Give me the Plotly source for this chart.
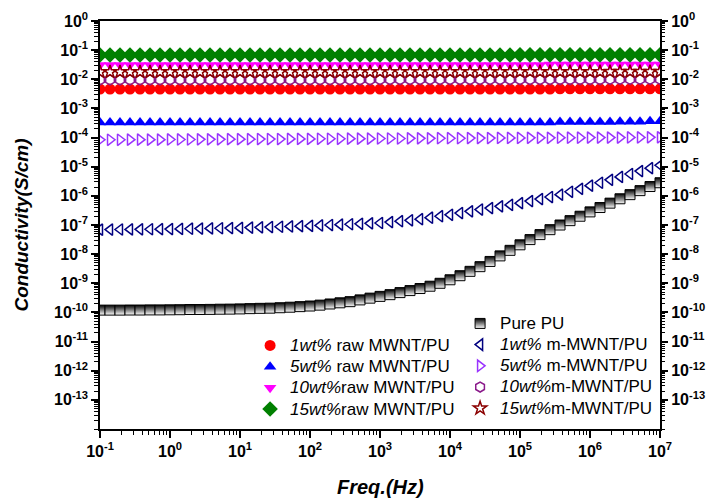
import plotly.graph_objects as go

# ---------------- data ----------------
freq = [
    0.1, 0.139, 0.193, 0.268, 0.373, 0.518, 0.720,
    1.0, 1.39, 1.93, 2.68, 3.73, 5.18, 7.20,
    10.0, 13.9, 19.3, 26.8, 37.3, 51.8, 72.0,
    100, 139, 193, 268, 373, 518, 720,
    1.0e3, 1.39e3, 1.93e3, 2.68e3, 3.73e3, 5.18e3, 7.20e3,
    1.0e4, 1.39e4, 1.93e4, 2.68e4, 3.73e4, 5.18e4, 7.20e4,
    1.0e5, 1.39e5, 1.93e5, 2.68e5, 3.73e5, 5.18e5, 7.20e5,
    1.0e6, 1.39e6, 1.93e6, 2.68e6, 3.73e6, 5.18e6, 7.20e6,
    1.0e7,
]

raw1 = [
    4.6e-3, 4.6e-3, 4.6e-3, 4.6e-3, 4.6e-3, 4.6e-3, 4.6e-3,
    4.6e-3, 4.6e-3, 4.6e-3, 4.6e-3, 4.6e-3, 4.6e-3, 4.6e-3,
    4.6e-3, 4.6e-3, 4.6e-3, 4.6e-3, 4.6e-3, 4.6e-3, 4.6e-3,
    4.6e-3, 4.6e-3, 4.6e-3, 4.6e-3, 4.6e-3, 4.6e-3, 4.6e-3,
    4.6e-3, 4.6e-3, 4.6e-3, 4.6e-3, 4.6e-3, 4.6e-3, 4.6e-3,
    4.6e-3, 4.6e-3, 4.6e-3, 4.6e-3, 4.6e-3, 4.6e-3, 4.6e-3,
    4.6e-3, 4.6e-3, 4.6e-3, 4.6e-3, 4.7e-3, 4.7e-3, 4.7e-3,
    4.7e-3, 4.7e-3, 4.7e-3, 4.7e-3, 4.7e-3, 4.7e-3, 4.7e-3,
    4.7e-3,
]
raw5 = [
    3.3e-4, 3.3e-4, 3.3e-4, 3.3e-4, 3.3e-4, 3.3e-4, 3.3e-4,
    3.3e-4, 3.3e-4, 3.3e-4, 3.3e-4, 3.3e-4, 3.3e-4, 3.3e-4,
    3.3e-4, 3.3e-4, 3.3e-4, 3.3e-4, 3.3e-4, 3.3e-4, 3.3e-4,
    3.3e-4, 3.3e-4, 3.3e-4, 3.3e-4, 3.3e-4, 3.3e-4, 3.3e-4,
    3.3e-4, 3.3e-4, 3.3e-4, 3.3e-4, 3.3e-4, 3.3e-4, 3.3e-4,
    3.3e-4, 3.3e-4, 3.3e-4, 3.3e-4, 3.3e-4, 3.3e-4, 3.3e-4,
    3.3e-4, 3.3e-4, 3.3e-4, 3.3e-4, 3.4e-4, 3.4e-4, 3.4e-4,
    3.4e-4, 3.4e-4, 3.4e-4, 3.5e-4, 3.5e-4, 3.5e-4, 3.6e-4,
    3.6e-4,
]
raw10 = [
    0.031, 0.031, 0.031, 0.031, 0.031, 0.031, 0.031,
    0.031, 0.031, 0.031, 0.031, 0.031, 0.031, 0.031,
    0.031, 0.031, 0.031, 0.031, 0.031, 0.031, 0.031,
    0.031, 0.031, 0.031, 0.031, 0.031, 0.031, 0.031,
    0.031, 0.031, 0.031, 0.031, 0.031, 0.031, 0.031,
    0.031, 0.031, 0.031, 0.031, 0.031, 0.031, 0.031,
    0.031, 0.031, 0.031, 0.032, 0.032, 0.032, 0.032,
    0.032, 0.032, 0.032, 0.032, 0.032, 0.032, 0.032,
    0.032,
]
raw15 = [
    0.068, 0.068, 0.068, 0.068, 0.068, 0.068, 0.068,
    0.068, 0.068, 0.068, 0.068, 0.068, 0.068, 0.068,
    0.068, 0.068, 0.068, 0.068, 0.068, 0.068, 0.068,
    0.068, 0.068, 0.068, 0.068, 0.068, 0.068, 0.068,
    0.068, 0.068, 0.068, 0.068, 0.068, 0.068, 0.068,
    0.068, 0.068, 0.068, 0.068, 0.068, 0.068, 0.068,
    0.069, 0.069, 0.069, 0.069, 0.069, 0.069, 0.069,
    0.069, 0.069, 0.069, 0.069, 0.069, 0.069, 0.069,
    0.069,
]
pure_pu = [
    1.20e-10, 1.20e-10, 1.20e-10, 1.21e-10, 1.21e-10, 1.22e-10, 1.22e-10,
    1.23e-10, 1.24e-10, 1.26e-10, 1.26e-10, 1.27e-10, 1.29e-10, 1.30e-10,
    1.32e-10, 1.35e-10, 1.38e-10, 1.40e-10, 1.45e-10, 1.51e-10, 1.58e-10,
    1.66e-10, 1.78e-10, 1.95e-10, 2.14e-10, 2.34e-10, 2.69e-10, 3.09e-10,
    3.55e-10, 4.07e-10, 4.79e-10, 5.62e-10, 6.61e-10, 7.94e-10, 1.00e-9,
    1.32e-9, 1.82e-9, 2.57e-9, 3.72e-9, 5.62e-9, 8.71e-9, 1.35e-8,
    2.09e-8, 3.16e-8, 4.68e-8, 6.92e-8, 1.00e-7, 1.41e-7, 2.00e-7,
    2.82e-7, 3.98e-7, 5.62e-7, 7.94e-7, 1.10e-6, 1.51e-6, 2.09e-6,
    2.82e-6,
]
m1 = [
    6.92e-8, 6.97e-8, 7.00e-8, 7.06e-8, 7.11e-8, 7.14e-8, 7.19e-8,
    7.24e-8, 7.34e-8, 7.45e-8, 7.53e-8, 7.64e-8, 7.74e-8, 7.83e-8,
    7.94e-8, 8.13e-8, 8.32e-8, 8.51e-8, 8.71e-8, 8.91e-8, 9.12e-8,
    9.33e-8, 9.64e-8, 9.98e-8, 1.03e-7, 1.06e-7, 1.10e-7, 1.14e-7,
    1.17e-7, 1.26e-7, 1.35e-7, 1.45e-7, 1.58e-7, 1.78e-7, 2.00e-7,
    2.24e-7, 2.57e-7, 2.95e-7, 3.39e-7, 3.80e-7, 4.37e-7, 4.90e-7,
    5.62e-7, 6.61e-7, 7.76e-7, 9.12e-7, 1.10e-6, 1.38e-6, 1.74e-6,
    2.24e-6, 2.82e-6, 3.55e-6, 4.47e-6, 5.62e-6, 7.08e-6, 8.91e-6,
    1.12e-5,
]
m5 = [
    8.4e-5, 8.4e-5, 8.4e-5, 8.5e-5, 8.5e-5, 8.5e-5, 8.5e-5,
    8.6e-5, 8.6e-5, 8.6e-5, 8.7e-5, 8.7e-5, 8.7e-5, 8.8e-5,
    8.8e-5, 8.8e-5, 8.9e-5, 8.9e-5, 8.9e-5, 9.0e-5, 9.0e-5,
    9.0e-5, 9.1e-5, 9.1e-5, 9.1e-5, 9.2e-5, 9.2e-5, 9.2e-5,
    9.3e-5, 9.3e-5, 9.3e-5, 9.4e-5, 9.4e-5, 9.4e-5, 9.5e-5,
    9.5e-5, 9.5e-5, 9.6e-5, 9.6e-5, 9.6e-5, 9.7e-5, 9.7e-5,
    9.7e-5, 9.8e-5, 9.8e-5, 9.8e-5, 9.9e-5, 9.9e-5, 9.9e-5,
    1.0e-4, 1.0e-4, 1.0e-4, 1.0e-4, 1.01e-4, 1.01e-4, 1.02e-4,
    1.02e-4,
]
m10 = [
    9.6e-3, 9.6e-3, 9.6e-3, 9.6e-3, 9.6e-3, 9.6e-3, 9.6e-3,
    9.6e-3, 9.6e-3, 9.6e-3, 9.6e-3, 9.6e-3, 9.6e-3, 9.6e-3,
    9.6e-3, 9.6e-3, 9.6e-3, 9.6e-3, 9.6e-3, 9.6e-3, 9.6e-3,
    9.6e-3, 9.6e-3, 9.6e-3, 9.6e-3, 9.6e-3, 9.6e-3, 9.6e-3,
    9.7e-3, 9.7e-3, 9.7e-3, 9.7e-3, 9.7e-3, 9.7e-3, 9.7e-3,
    9.7e-3, 9.7e-3, 9.7e-3, 9.7e-3, 9.7e-3, 9.7e-3, 9.7e-3,
    9.8e-3, 9.8e-3, 9.8e-3, 9.8e-3, 9.8e-3, 9.8e-3, 9.8e-3,
    9.8e-3, 9.8e-3, 9.9e-3, 9.9e-3, 9.9e-3, 9.9e-3, 9.9e-3,
    9.9e-3,
]
m15 = [
    0.0178, 0.0178, 0.0178, 0.0178, 0.0178, 0.0178, 0.0178,
    0.0178, 0.0178, 0.0178, 0.0178, 0.0178, 0.0178, 0.0178,
    0.0178, 0.0178, 0.0178, 0.0178, 0.0178, 0.0178, 0.0178,
    0.0178, 0.0178, 0.0178, 0.0178, 0.0178, 0.0178, 0.0178,
    0.0179, 0.0179, 0.0179, 0.0179, 0.0179, 0.0179, 0.0179,
    0.0179, 0.0179, 0.0179, 0.0179, 0.0179, 0.0179, 0.0179,
    0.0180, 0.0180, 0.0180, 0.0180, 0.0180, 0.0180, 0.0180,
    0.0180, 0.0180, 0.0181, 0.0181, 0.0181, 0.0181, 0.0181,
    0.0181,
]

x_tickvals = [1e-1, 1e0, 1e1, 1e2, 1e3, 1e4, 1e5, 1e6, 1e7]
x_ticktext = ["10<sup>-1</sup>", "10<sup>0</sup>", "10<sup>1</sup>", "10<sup>2</sup>",
              "10<sup>3</sup>", "10<sup>4</sup>", "10<sup>5</sup>", "10<sup>6</sup>",
              "10<sup>7</sup>"]
y_tickvals = [1e0, 1e-1, 1e-2, 1e-3, 1e-4, 1e-5, 1e-6, 1e-7, 1e-8, 1e-9,
              1e-10, 1e-11, 1e-12, 1e-13]
y_ticktext = ["10<sup>0</sup>", "10<sup>-1</sup>", "10<sup>-2</sup>", "10<sup>-3</sup>",
              "10<sup>-4</sup>", "10<sup>-5</sup>", "10<sup>-6</sup>", "10<sup>-7</sup>",
              "10<sup>-8</sup>", "10<sup>-9</sup>", "10<sup>-10</sup>", "10<sup>-11</sup>",
              "10<sup>-12</sup>", "10<sup>-13</sup>"]

FONT = "Liberation Sans, Arial, sans-serif"
LEG_SIZE = 14      # controls legend row spacing
LEG_TEXT = 17      # rendered legend text size


def leg(name):
    return '<span style="font-size:%dpx">%s</span>' % (LEG_TEXT, name)


fig = go.Figure()


def add(y, name, symbol, color, size, legend, filled=True, lw=1.5, extra=None):
    if filled:
        marker = dict(symbol=symbol, color=color, size=size, line=dict(width=0))
    else:
        marker = dict(symbol=symbol, color=color, size=size, line=dict(width=lw, color=color))
    if extra:
        marker.update(extra)
    fig.add_trace(go.Scatter(x=freq, y=y, mode="markers", name=leg(name), marker=marker,
                             legend=legend))


# raw MWNT/PU (left legend column)
add(raw1, "<i>1wt%</i> raw MWNT/PU", "circle", "#ff0000", 11, "legend")
add(raw5, "<i>5wt%</i> raw MWNT/PU", "triangle-up", "#0000ff", 11, "legend")
add(raw10, "<i>10wt%</i>raw MWNT/PU", "triangle-down", "#ff00ff", 11, "legend")
add(raw15, "<i>15wt%</i>raw MWNT/PU", "diamond", "#008000", 12, "legend")

# Pure PU (half-filled squares: black top, white bottom)
add(pure_pu, "Pure PU", "square", "#000000", 10, "legend2", filled=False, lw=1,
    extra=dict(gradient=dict(type="vertical", color="#ffffff")))

add(m1, "<i>1wt%</i> m-MWNT/PU", "triangle-left-open", "#000080", 10, "legend2", filled=False)
add(m5, "<i>5wt%</i> m-MWNT/PU", "triangle-right-open", "#9933ff", 10, "legend2", filled=False)
add(m10, "<i>10wt%</i>m-MWNT/PU", "hexagon-open", "#8b1a8b", 10, "legend2", filled=False)
add(m15, "<i>15wt%</i>m-MWNT/PU", "star-open", "#8b0000", 10, "legend2", filled=False)

# carrier so the right-hand mirrored axis is drawn
fig.add_trace(go.Scatter(x=freq, y=pure_pu, yaxis="y2", mode="markers",
                         marker=dict(opacity=0), showlegend=False, hoverinfo="skip"))

tickfont = dict(family=FONT, size=16, color="black", weight="bold")
minor = dict(ticks="outside", ticklen=4, tickwidth=1, tickcolor="black", dtick="D1", showgrid=False)

fig.update_layout(
    width=712, height=502,
    margin=dict(l=100, r=52, t=21, b=73),
    paper_bgcolor="white", plot_bgcolor="white",
    font=dict(family=FONT, color="black"),
    xaxis=dict(
        type="log", range=[-1, 7], showgrid=False, zeroline=False, automargin=False,
        showline=True, linecolor="black", linewidth=1.5, mirror=True,
        ticks="outside", ticklen=7, tickwidth=1.5, tickcolor="black",
        tickmode="array", tickvals=x_tickvals, ticktext=x_ticktext,
        tickfont=tickfont, minor=minor,
    ),
    yaxis=dict(
        type="log", range=[-14, 0], showgrid=False, zeroline=False, automargin=False,
        showline=True, linecolor="black", linewidth=1.5, mirror=True,
        ticks="outside", ticklen=7, tickwidth=1.5, tickcolor="black",
        tickmode="array", tickvals=y_tickvals, ticktext=y_ticktext,
        tickfont=tickfont, minor=minor,
        title=dict(text="Conductivity(S/cm)", standoff=20,
                   font=dict(family=FONT, size=19, weight="bold", style="italic")),
    ),
    yaxis2=dict(
        type="log", range=[-14, 0], overlaying="y", side="right", anchor="x",
        showgrid=False, zeroline=False, showline=False, automargin=False,
        ticks="outside", ticklen=7, tickwidth=1.5, tickcolor="black",
        tickmode="array", tickvals=y_tickvals, ticktext=y_ticktext,
        tickfont=tickfont, minor=minor,
    ),
    annotations=[dict(
        text="Freq.(Hz)", xref="paper", yref="paper", x=0.5, y=-0.142,
        xanchor="center", yanchor="middle", showarrow=False,
        font=dict(family=FONT, size=20, weight="bold", style="italic", color="black"),
    )],
    legend=dict(x=0.268, y=0.243, xanchor="left", yanchor="top",
                bgcolor="rgba(0,0,0,0)", font=dict(family=FONT, size=LEG_SIZE, color="black"),
                tracegroupgap=0, itemwidth=30),
    legend2=dict(x=0.643, y=0.297, xanchor="left", yanchor="top",
                 bgcolor="rgba(0,0,0,0)", font=dict(family=FONT, size=LEG_SIZE, color="black"),
                 tracegroupgap=0, itemwidth=30),
)

fig.write_html("out.html")
